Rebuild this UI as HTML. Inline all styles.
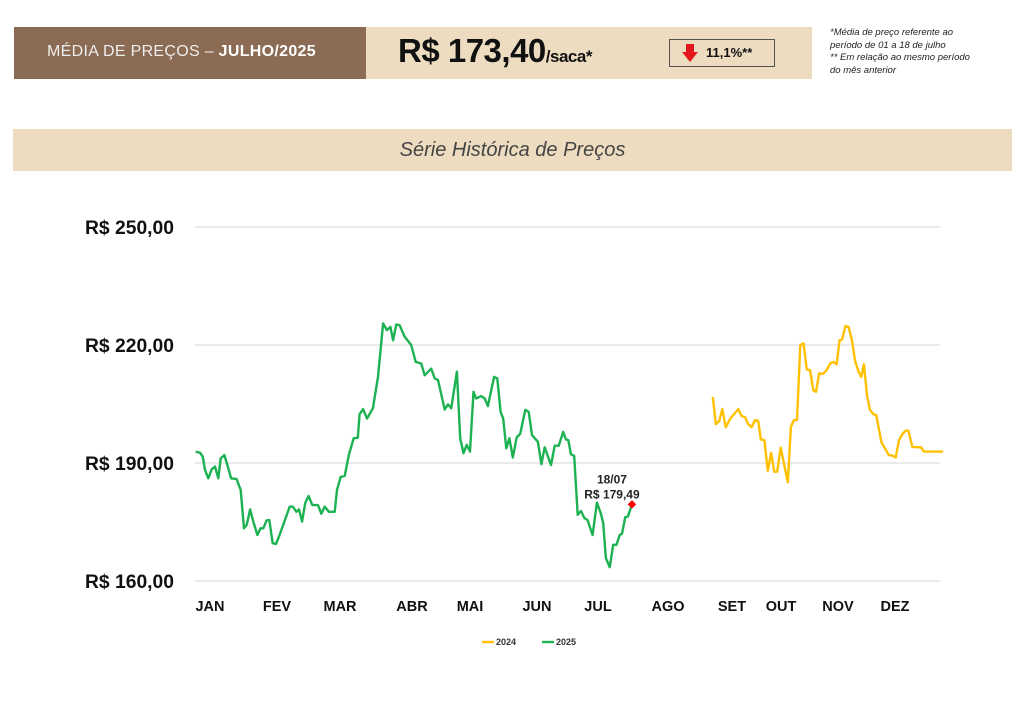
<!DOCTYPE html>
<html><head><meta charset="utf-8"><style>
body{margin:0;width:1024px;height:704px;background:#fff;position:relative;overflow:hidden;font-family:"Liberation Sans",sans-serif}
.a{position:absolute}
</style></head><body>
<div class="a" style="left:14px;top:27px;width:352px;height:52px;background:#8B6B53"></div>
<div class="a" style="left:47px;top:43px;color:#eee;font-size:16px;letter-spacing:0.3px">MÉDIA DE PREÇOS – <b style="color:#fff">JULHO/2025</b></div>
<div class="a" style="left:366px;top:27px;width:446px;height:52px;background:#EDDCC0"></div>
<div class="a" style="left:398px;top:32px;font-size:33px;font-weight:bold;color:#111;letter-spacing:-0.5px">R$ 173,40<span style="font-size:17px">/saca*</span></div>
<div class="a" style="left:669px;top:39px;width:106px;height:28px;border:1px solid #555;box-sizing:border-box;font-size:13px;font-weight:bold;line-height:26px;padding-left:36px;color:#111">11,1%**</div>
<svg class="a" style="left:682px;top:44px" width="16" height="18"><path d="M4 0h8v8h4L8 18L0 8h4z" fill="#E3161B"/></svg>
<div class="a" style="left:830px;top:27px;font-size:9.5px;font-style:italic;color:#222;line-height:12.5px">*Média de preço referente ao<br>período de 01 a 18 de julho<br>** Em relação ao mesmo período<br>do mês anterior</div>
<div class="a" style="left:13px;top:129px;width:999px;height:42px;background:#EDDCC0;text-align:center;line-height:42px;font-size:20px;font-style:italic;color:#444">Série Histórica de Preços</div>
<svg class="a" id="chart" style="left:0;top:0" width="1024" height="704"></svg>
<script>
const yTicks=[160,190,220,250];
const months=["JAN","FEV","MAR","ABR","MAI","JUN","JUL","AGO","SET","OUT","NOV","DEZ"];
const monthLabelX=[210,277,340,412,470,537,598,668,732,781,838,895];
const days2025=[0.3,2.5,3.8,4.9,6.5,8.2,9.8,11.4,12.6,14.4,16.1,17.7,20.4,22.4,24.0,25.4,27.0,28.6,30.6,32.1,33.5,35.1,36.4,38.1,39.7,41.2,46.4,48.0,49.7,51.0,52.5,54.0,55.7,57.5,60.3,61.9,63.6,65.7,68.5,69.6,71.4,73.4,75.4,77.8,79.8,80.7,82.4,84.3,87.2,89.7,92.2,94.1,95.8,97.1,98.7,100.3,102.8,106.0,108.2,110.9,112.6,115.8,117.5,119.1,122.4,124.0,125.6,128.4,130.0,131.6,133.2,134.8,136.5,137.8,140.3,142.0,143.6,146.6,148.2,149.8,151.1,152.6,154.1,155.8,157.7,159.4,161.9,163.6,165.2,168.1,169.8,171.4,174.5,176.3,178.3,180.5,181.8,183.0,184.3,185.9,187.6,189.2,190.9,192.4,194.9,197.0,198.9,200.1,201.4,203.3,205.0,206.6,208.2,209.3,210.9,212.2,214.2];
const prices2025=[192.9,192.6,191.6,188.2,186.1,188.4,189.1,186.1,191.2,192.0,189.1,186.1,185.9,183.1,173.4,174.3,178.2,175.1,171.7,173.4,173.4,175.4,175.5,169.6,169.4,171.3,178.9,178.9,177.6,178.2,175.1,179.8,181.6,179.3,179.3,177.1,178.9,177.6,177.6,183.1,186.5,186.7,192.0,196.3,196.4,202.4,203.7,201.3,203.9,211.9,225.5,223.8,224.6,221.2,225.2,225.0,222.1,220.0,215.7,215.3,212.3,214.0,211.5,211.1,203.6,204.9,203.9,213.2,196.3,192.5,194.6,192.9,208.1,206.4,207.0,206.4,204.5,211.9,211.5,203.0,201.3,193.7,196.3,191.4,196.5,197.4,203.5,203.0,197.1,195.4,189.7,194.0,189.5,194.4,194.4,197.9,196.0,195.8,192.2,191.8,176.8,177.8,176.0,175.5,171.7,179.9,177.2,174.7,165.8,163.5,169.2,169.2,171.7,172.0,176.2,176.4,179.49];
const days2024=[253.8,255.3,257.0,258.5,260.2,262.3,266.3,268.0,269.6,271.2,272.9,274.5,276.1,277.4,279.1,280.8,282.4,283.9,285.4,287.1,290.6,292.1,293.6,295.1,296.7,298.3,299.9,301.5,303.1,304.4,306.0,307.6,309.6,311.3,312.9,314.5,316.0,317.2,318.8,320.4,322.0,323.7,325.3,326.6,327.9,329.4,330.8,332.5,333.9,336.5,338.5,340.1,341.8,343.5,345.1,346.8,348.4,349.7,351.6,355.9,357.3,359.0,361.0,366.7];
const prices2024=[206.8,199.9,200.7,203.7,199.1,201.2,203.7,201.9,201.7,199.9,199.1,200.9,200.7,196.0,195.8,188.0,192.6,187.8,187.8,193.9,185.1,199.2,200.9,200.9,220.0,220.4,213.8,213.6,208.5,208.1,212.8,212.6,213.6,215.3,215.7,215.1,221.2,221.4,224.8,224.6,221.2,215.7,213.2,211.9,215.1,207.3,203.6,202.4,202.2,195.2,193.5,192.0,191.9,191.4,195.8,197.4,198.2,198.2,194.1,194.0,192.9,192.9,192.9,192.9];
const svg=document.getElementById('chart');const NS='http://www.w3.org/2000/svg';
const X=d=>195+d*2.04;const Y=v=>581-(v-160)*(354/90);
function mk(t,a){const e=document.createElementNS(NS,t);for(const k in a)e.setAttribute(k,a[k]);svg.appendChild(e);return e;}
yTicks.forEach(v=>{const g=mk('line',{x1:195,x2:940,y1:Y(v),y2:Y(v),stroke:'#e3e3e3','stroke-width':1.5});


const t=mk('text',{x:174,y:Y(v)+7,'text-anchor':'end','font-size':19,'font-weight':'bold',fill:'#111','font-family':'Liberation Sans, sans-serif',textLength:89,lengthAdjust:'spacingAndGlyphs'});t.textContent='R$ '+v+',00';

});
months.forEach((m,i)=>{const t=mk('text',{x:monthLabelX[i],y:611,'text-anchor':'middle','font-size':14.5,'font-weight':'bold',fill:'#111','font-family':'Liberation Sans, sans-serif'});t.textContent=m;

});
function line(d,p,c,n){const pts=d.map((x,i)=>X(x).toFixed(1)+','+Y(p[i]).toFixed(1)).join(' ');const l=mk('polyline',{points:pts,fill:'none',stroke:c,'stroke-width':2.4,'stroke-linejoin':'round'});

}
line(days2024,prices2024,'#FFC000','series-2024');
line(days2025,prices2025,'#1DB251','series-2025');
const li=days2025.length-1,lx=X(days2025[li]),ly=Y(prices2025[li]);
const mkr=mk('rect',{x:lx-3,y:ly-3,width:6,height:6,fill:'#f00',transform:`rotate(45 ${lx} ${ly})`});


const a1=mk('text',{x:lx-20,y:ly-21,'text-anchor':'middle','font-size':12,'font-weight':'bold',fill:'#222','font-family':'Liberation Sans, sans-serif'});a1.textContent='18/07';


const a2=mk('text',{x:lx-20,y:ly-6,'text-anchor':'middle','font-size':12,'font-weight':'bold',fill:'#222','font-family':'Liberation Sans, sans-serif'});a2.textContent='R$ 179,49';


[['2024','#FFC000',482],['2025','#1DB251',542]].forEach(([n,c,x])=>{const l=mk('line',{x1:x,x2:x+12,y1:642,y2:642,stroke:c,'stroke-width':2.4});


const t=mk('text',{x:x+14,y:645,'font-size':9,'font-weight':'bold',fill:'#333','font-family':'Liberation Sans, sans-serif'});t.textContent=n;

});
</script>
</body></html>
